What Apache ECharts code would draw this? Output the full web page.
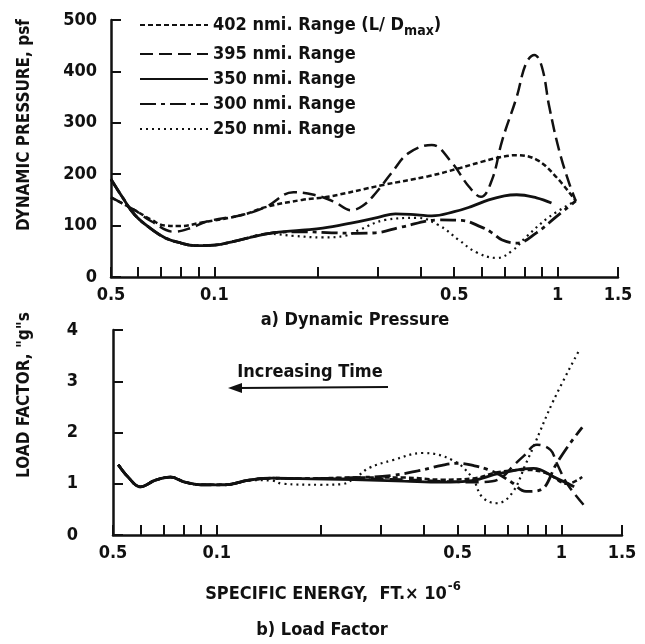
<!DOCTYPE html>
<html>
<head>
<meta charset="utf-8">
<script src="https://cdn.jsdelivr.net/npm/echarts@6/dist/echarts.min.js"></script>
<style>
  html, body { margin: 0; padding: 0; background: #fff; }
  #chart { width: 645px; height: 644px; }
</style>
</head>
<body>
<div id="chart"></div>
<script>
// series names (legend)
const seriesNames = [
  "402 nmi. Range (L/ D max)",
  "395 nmi. Range",
  "350 nmi. Range",
  "300 nmi. Range",
  "250 nmi. Range",
];

// x axis: specific energy, ft x 10^-6 (log)
const xTickValues = [0.05, 0.06, 0.07, 0.08, 0.09, 0.1, 0.2, 0.3, 0.4, 0.5, 0.6, 0.7, 0.8, 0.9, 1, 1.5];
const xLabelValues = [0.05, 0.1, 0.5, 1, 1.5];
const xLabelText = ["0.5", "0.1", "0.5", "1", "1.5"]; // as printed on the figure

// a) dynamic pressure, psf  [energy, q]
const q402 = [[0.05, 155], [0.0586, 130], [0.0657, 111], [0.0718, 100], [0.079, 99], [0.092, 106], [0.121, 121],
  [0.141, 136], [0.18, 150], [0.214, 156], [0.31, 179], [0.42, 196], [0.52, 212], [0.6, 224], [0.68, 233],
  [0.76, 237], [0.87, 228], [0.99, 195], [1.13, 148]];
const q395 = [[0.05, 155], [0.0586, 130], [0.0657, 108], [0.0763, 88], [0.086, 96], [0.095, 108], [0.121, 121],
  [0.141, 136], [0.17, 165], [0.195, 160], [0.224, 146], [0.25, 130], [0.27, 138], [0.295, 163], [0.328, 202],
  [0.368, 241], [0.43, 257], [0.49, 224], [0.553, 175], [0.598, 156], [0.644, 189], [0.69, 266], [0.76, 350],
  [0.81, 416], [0.856, 432], [0.9, 409], [0.946, 331], [1.01, 247], [1.08, 183], [1.13, 148]];
const q350 = [[0.05, 190], [0.054, 155], [0.0586, 121], [0.065, 95], [0.072, 76], [0.08, 66], [0.088, 61],
  [0.1, 62], [0.115, 70], [0.145, 85], [0.18, 91], [0.207, 95], [0.25, 105], [0.3, 116], [0.337, 123],
  [0.39, 121], [0.43, 119], [0.5, 127], [0.56, 137], [0.63, 150], [0.7, 158], [0.76, 160], [0.868, 154], [0.96, 144]];
const q300 = [[0.05, 190], [0.054, 155], [0.0586, 121], [0.065, 95], [0.072, 76], [0.08, 66], [0.088, 61],
  [0.1, 62], [0.115, 70], [0.145, 85], [0.18, 88], [0.22, 86], [0.26, 85], [0.295, 86], [0.35, 97],
  [0.45, 111], [0.526, 110], [0.6, 97], [0.644, 86], [0.69, 72], [0.76, 66], [0.868, 86], [0.99, 117], [1.13, 148]];
const q250 = [[0.05, 190], [0.054, 155], [0.0586, 121], [0.065, 95], [0.072, 76], [0.08, 66], [0.088, 61],
  [0.1, 62], [0.115, 70], [0.145, 84], [0.17, 80], [0.207, 77], [0.24, 80], [0.263, 91], [0.315, 111],
  [0.39, 115], [0.45, 101], [0.516, 72], [0.58, 48], [0.667, 37], [0.74, 52], [0.81, 78], [0.946, 117], [1.13, 148]];

// b) load factor, g's  [energy, n]
const n402 = [[0.0518, 1.37], [0.0553, 1.13], [0.06, 0.94], [0.0664, 1.07], [0.0734, 1.13], [0.081, 1.03],
  [0.09, 0.98], [0.106, 0.98], [0.124, 1.07], [0.145, 1.11], [0.173, 1.1], [0.25, 1.12], [0.35, 1.12],
  [0.45, 1.08], [0.55, 1.1], [0.66, 1.23], [0.8, 1.27], [0.91, 1.2], [1.04, 1.0], [1.15, 1.13]];
const n395 = [[0.0518, 1.37], [0.0553, 1.13], [0.06, 0.94], [0.0664, 1.07], [0.0734, 1.13], [0.081, 1.03],
  [0.09, 0.98], [0.106, 0.98], [0.124, 1.07], [0.145, 1.11], [0.173, 1.1], [0.25, 1.1], [0.35, 1.08],
  [0.45, 1.05], [0.55, 1.03], [0.63, 1.05], [0.68, 1.15], [0.72, 1.33], [0.78, 1.55], [0.85, 1.76],
  [0.93, 1.66], [0.97, 1.4], [1.04, 1.0], [1.16, 0.59]];
const n350 = [[0.0518, 1.37], [0.0553, 1.13], [0.06, 0.94], [0.0664, 1.07], [0.0734, 1.13], [0.081, 1.03],
  [0.09, 0.98], [0.106, 0.98], [0.124, 1.07], [0.145, 1.11], [0.173, 1.1], [0.25, 1.08], [0.35, 1.05],
  [0.45, 1.03], [0.55, 1.06], [0.66, 1.2], [0.83, 1.3], [0.96, 1.12], [1.09, 0.94]];
const n300 = [[0.0518, 1.37], [0.0553, 1.13], [0.06, 0.94], [0.0664, 1.07], [0.0734, 1.13], [0.081, 1.03],
  [0.09, 0.98], [0.106, 0.98], [0.124, 1.07], [0.145, 1.11], [0.173, 1.1], [0.25, 1.12], [0.32, 1.16],
  [0.383, 1.25], [0.45, 1.36], [0.5, 1.4], [0.56, 1.35], [0.61, 1.28], [0.66, 1.18], [0.72, 1.02],
  [0.79, 0.85], [0.87, 0.88], [0.97, 1.4], [1.05, 1.75], [1.15, 2.1]];
const n250 = [[0.0518, 1.37], [0.0553, 1.13], [0.06, 0.94], [0.0664, 1.07], [0.0734, 1.13], [0.081, 1.03],
  [0.09, 0.98], [0.106, 0.98], [0.124, 1.07], [0.145, 1.06], [0.155, 1.0], [0.2, 0.98], [0.23, 0.99],
  [0.254, 1.13], [0.277, 1.31], [0.324, 1.46], [0.396, 1.6], [0.483, 1.46], [0.55, 1.13], [0.59, 0.74],
  [0.65, 0.62], [0.72, 0.82], [0.79, 1.4], [0.83, 1.72], [0.95, 2.63], [1.12, 3.57]];

const FONT = "'DejaVu Sans Condensed', 'Liberation Sans Narrow', sans-serif";
const INK = "#111";

// line style per range
const lineStyles = [
  { type: [5, 3], width: 2.5 },
  { type: [13, 6], width: 2.5 },
  { type: "solid", width: 2.8 },
  { type: [16, 5, 4, 5], width: 2.8 },
  { type: [2, 4], width: 2.2 },
];

const chart = echarts.init(document.getElementById("chart"));

function xAxisFor(gridIndex) {
  return {
    type: "log",
    logBase: 10,
    gridIndex: gridIndex,
    min: 0.05,
    max: 1.5,
    axisLine: { show: true, lineStyle: { color: INK, width: 2.5 } },
    axisTick: { show: true, inside: true, length: 10, customValues: xTickValues, lineStyle: { color: INK, width: 2 } },
    axisLabel: {
      customValues: xLabelValues,
      margin: 9,
      color: INK,
      fontFamily: FONT,
      fontSize: 18,
      fontWeight: "bold",
      formatter: function (v) {
        for (let i = 0; i < xLabelValues.length; i++) {
          if (Math.abs(v / xLabelValues[i] - 1) < 1e-4) return xLabelText[i];
        }
        return "";
      },
    },
    splitLine: { show: false },
    minorTick: { show: false },
  };
}

function yAxisFor(gridIndex, max, interval, margin) {
  return {
    type: "value",
    gridIndex: gridIndex,
    min: 0,
    max: max,
    interval: interval,
    axisLine: { show: true, lineStyle: { color: INK, width: 2.5 } },
    axisTick: { show: true, inside: true, length: 10, lineStyle: { color: INK, width: 2 } },
    axisLabel: { margin: margin, color: INK, fontFamily: FONT, fontSize: 18, fontWeight: "bold" },
    splitLine: { show: false },
  };
}

function lineSeries(i, data, gridIndex) {
  return {
    name: seriesNames[i],
    type: "line",
    xAxisIndex: gridIndex,
    yAxisIndex: gridIndex,
    data: data,
    smooth: 0.4,
    symbol: "none",
    itemStyle: { color: INK },
    lineStyle: { color: INK, width: lineStyles[i].width, type: lineStyles[i].type },
    z: i === 2 ? 5 : 3,
  };
}

const option = {
  backgroundColor: "#fff",
  animation: false,
  textStyle: { fontFamily: FONT },
  grid: [
    { left: 111, top: 20, width: 507, height: 257 },
    { left: 113, top: 330, width: 509, height: 205 },
  ],
  xAxis: [xAxisFor(0), xAxisFor(1)],
  yAxis: [yAxisFor(0, 500, 100, 14), yAxisFor(1, 4, 1, 35)],
  legend: {
    data: seriesNames,
    orient: "vertical",
    left: 134,
    top: 11,
    itemWidth: 68,
    itemHeight: 12,
    itemGap: 7,
    selectedMode: false,
    itemStyle: { opacity: 0 },
    textStyle: {
      color: INK,
      fontFamily: FONT,
      fontSize: 18,
      fontWeight: "bold",
      rich: {
        sub: { fontSize: 14, fontWeight: "bold", fontFamily: FONT, color: INK, padding: [12, 0, 0, 0] },
      },
    },
    formatter: function (name) {
      return name === seriesNames[0] ? "402 nmi. Range (L/ D{sub|max})" : name;
    },
  },
  graphic: [
    {
      type: "text", x: 25, y: 125, rotation: Math.PI / 2,
      style: { text: "DYNAMIC PRESSURE, psf", fill: INK, font: "bold 17px " + FONT, align: "center", verticalAlign: "middle" },
    },
    {
      type: "text", x: 25, y: 395, rotation: Math.PI / 2,
      style: { text: "LOAD FACTOR, \"g\"s", fill: INK, font: "bold 17px " + FONT, align: "center", verticalAlign: "middle" },
    },
    {
      type: "text", x: 355, y: 320,
      style: { text: "a) Dynamic Pressure", fill: INK, font: "bold 18px " + FONT, align: "center", verticalAlign: "middle" },
    },
    {
      type: "text", x: 310, y: 372,
      style: { text: "Increasing Time", fill: INK, font: "bold 18px " + FONT, align: "center", verticalAlign: "middle" },
    },
    {
      type: "line", shape: { x1: 238, y1: 388, x2: 388, y2: 387 },
      style: { stroke: INK, lineWidth: 2 },
    },
    {
      type: "polygon", shape: { points: [[228, 388], [242, 383], [242, 393]] },
      style: { fill: INK },
    },
    {
      type: "text", x: 333, y: 594,
      style: {
        text: "SPECIFIC ENERGY,  FT.\u00d7 10{sup|-6}",
        fill: INK, font: "bold 18px " + FONT, align: "center", verticalAlign: "middle",
        rich: { sup: { fontSize: 13, fontWeight: "bold", fontFamily: FONT, fill: INK, padding: [0, 0, 14, 1] } },
      },
    },
    {
      type: "text", x: 322, y: 630,
      style: { text: "b) Load Factor", fill: INK, font: "bold 18px " + FONT, align: "center", verticalAlign: "middle" },
    },
  ],
  series: [
    lineSeries(0, q402, 0),
    lineSeries(1, q395, 0),
    lineSeries(2, q350, 0),
    lineSeries(3, q300, 0),
    lineSeries(4, q250, 0),
    lineSeries(0, n402, 1),
    lineSeries(1, n395, 1),
    lineSeries(2, n350, 1),
    lineSeries(3, n300, 1),
    lineSeries(4, n250, 1),
  ],
};

chart.setOption(option);
</script>
</body>
</html>
